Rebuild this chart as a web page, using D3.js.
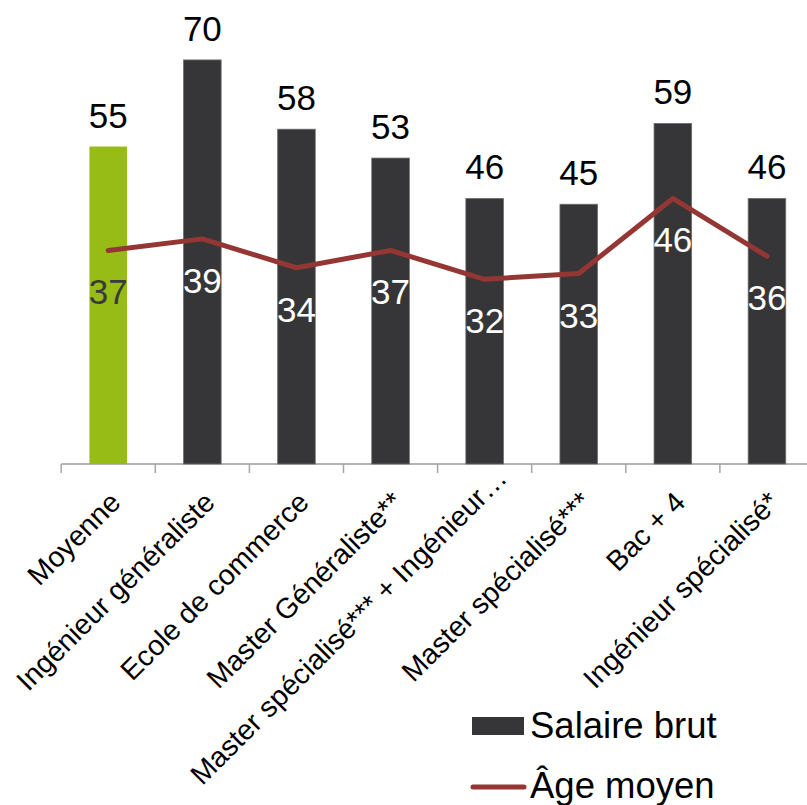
<!DOCTYPE html>
<html>
<head>
<meta charset="utf-8">
<script src="https://cdn.jsdelivr.net/npm/d3@7/dist/d3.min.js"></script>
<style>
  html, body { margin: 0; padding: 0; background: #fff; }
  svg { display: block; font-family: "Liberation Sans", Arial, sans-serif; }
</style>
</head>
<body>
<svg id="chart" width="807" height="805"></svg>
<script>
const categories = ["Moyenne", "Ingénieur généraliste", "Ecole de commerce", "Master Généraliste**",
  "Master spécialisé*** + Ingénieur…", "Master spécialisé***", "Bac + 4", "Ingénieur spécialisé*"];
const salaire = [55, 70, 58, 53, 46, 45, 59, 46];
const age = [37, 39, 34, 37, 32, 33, 46, 36];
const seriesNames = ["Salaire brut", "Âge moyen"];

const svg = d3.select("#chart");
const x = d3.scaleBand().domain(categories).range([61.2, 61.2 + 8 * 94.1]).padding(0);
const y = d3.scaleLinear().domain([0, 80]).range([464, 2.2]);
const barW = 37.6;
const cx = d => x(d) + x.bandwidth() / 2;

// axis
const axis = d3.axisBottom(x).tickSize(9).tickSizeOuter(0).tickFormat("");
const ax = svg.append("g").attr("transform", `translate(0,${y(0)})`).call(axis);
ax.select(".domain").attr("stroke", "#b3b3b3").attr("stroke-width", 2).attr("d", `M${x.range()[0]},0H807`);
ax.selectAll(".tick line").attr("stroke", "#a6a6a6").attr("stroke-width", 1.5)
  .attr("transform", `translate(${-x.bandwidth() / 2},0)`);

// bars
svg.append("g").selectAll("rect").data(categories).join("rect")
  .attr("x", d => cx(d) - barW / 2)
  .attr("width", barW)
  .attr("y", (d, i) => y(salaire[i]))
  .attr("height", (d, i) => y(0) - y(salaire[i]))
  .attr("fill", (d, i) => i === 0 ? "#97bc16" : "#363638")
  .attr("stroke", (d, i) => i === 0 ? "none" : "#6e6e6e")
  .attr("stroke-width", 0.8);

// bar labels
svg.append("g").selectAll("text").data(categories).join("text")
  .attr("x", d => cx(d))
  .attr("y", (d, i) => y(salaire[i]) - 19)
  .attr("text-anchor", "middle")
  .attr("font-size", 35)
  .attr("fill", "#000")
  .text((d, i) => salaire[i]);

// line
const line = d3.line().x((d, i) => cx(categories[i])).y(d => y(d));
svg.append("path").datum(age)
  .attr("d", line)
  .attr("fill", "none")
  .attr("stroke", "#943634")
  .attr("stroke-width", 5)
  .attr("stroke-linejoin", "round")
  .attr("stroke-linecap", "round");

// line labels
svg.append("g").selectAll("text").data(categories).join("text")
  .attr("x", d => cx(d))
  .attr("y", (d, i) => y(age[i]) + 54)
  .attr("text-anchor", "middle")
  .attr("font-size", 35)
  .attr("fill", (d, i) => i === 0 ? "#3a3a3a" : "#ffffff")
  .text((d, i) => age[i]);

// x labels
const labelY = 504;
svg.append("g").selectAll("text").data(categories).join("text")
  .attr("transform", d => `translate(${cx(d) + 14},${labelY}) rotate(-45)`)
  .attr("text-anchor", "end")
  .attr("font-size", 28.5)
  .attr("fill", "#000")
  .text(d => d)
  .each(function () {
    const len = this.getComputedTextLength();
    const bottom = labelY + len * Math.SQRT1_2;
    if (bottom > 790) {
      d3.select(this).attr("dx", 24).attr("dy", -10);
    }
  });

// legend
const lg = svg.append("g");
lg.append("rect").attr("x", 472).attr("y", 717).attr("width", 52).attr("height", 18).attr("fill", "#363638");
lg.append("text").attr("x", 530).attr("y", 738).attr("font-size", 36.5).text(seriesNames[0]);
lg.append("line").attr("x1", 473).attr("x2", 524).attr("y1", 787).attr("y2", 787)
  .attr("stroke", "#943634").attr("stroke-width", 5).attr("stroke-linecap", "round");
lg.append("text").attr("x", 530).attr("y", 798).attr("font-size", 36.5).text(seriesNames[1]);
</script>
</body>
</html>
